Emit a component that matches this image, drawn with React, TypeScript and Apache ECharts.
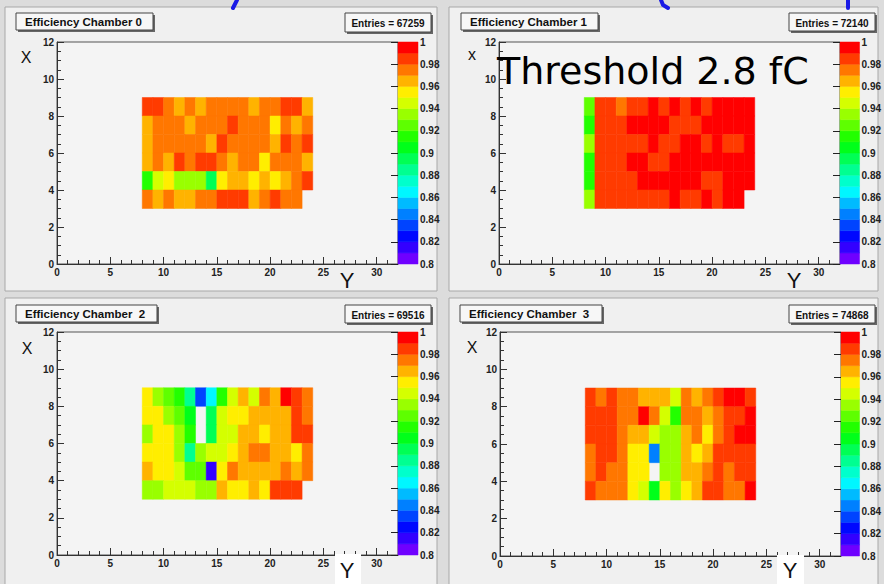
import React, { useEffect, useRef } from "react";
import * as echarts from "echarts";

// Bin centres' lower edges (cm): columns along "Y", rows along "X" (top row first)
const X_BINS = [8, 9, 10, 11, 12, 13, 14, 15, 16, 17, 18, 19, 20, 21, 22, 23];
const Y_BINS = [8, 7, 6, 5, 4, 3];

const CHAMBER_0 = [
  [0.985, 0.985, 0.975, 0.965, 0.975, 0.965, 0.975, 0.975, 0.975, 0.975, 0.965, 0.975, 0.975, 0.985, 0.985, 0.965],
  [0.965, 0.975, 0.975, 0.975, 0.965, 0.975, 0.975, 0.975, 0.985, 0.975, 0.975, 0.975, 0.955, 0.975, 0.965, 0.975],
  [0.965, 0.975, 0.975, 0.975, 0.975, 0.975, 0.965, 0.985, 0.975, 0.975, 0.975, 0.975, 0.965, 0.985, 0.975, 0.985],
  [0.965, 0.975, 0.965, 0.985, 0.975, 0.985, 0.985, 0.975, 0.965, 0.975, 0.975, 0.955, 0.975, 0.975, 0.975, 0.965],
  [0.915, 0.945, 0.955, 0.935, 0.935, 0.935, 0.895, 0.955, 0.965, 0.965, 0.955, 0.965, 0.955, 0.965, 0.975, 0.985],
  [0.975, 0.965, 0.975, 0.965, 0.965, 0.975, 0.975, 0.985, 0.985, 0.985, 0.965, 0.975, 0.985, 0.975, 0.975, null],
];

const CHAMBER_1 = [
  [0.925, 0.985, 0.985, 0.975, 0.985, 0.985, 0.995, 0.985, 0.995, 0.985, 0.995, 0.985, 0.995, 0.995, 0.995, 0.995],
  [0.915, 0.985, 0.985, 0.985, 0.995, 0.995, 0.995, 0.995, 0.985, 0.985, 0.985, 0.995, 0.995, 0.995, 0.995, 0.995],
  [0.935, 0.985, 0.985, 0.985, 0.985, 0.985, 0.995, 0.985, 0.985, 0.995, 0.995, 0.985, 0.995, 0.985, 0.985, 0.995],
  [0.915, 0.985, 0.985, 0.985, 0.995, 0.995, 0.985, 0.985, 0.995, 0.995, 0.995, 0.995, 0.995, 0.995, 0.995, 0.995],
  [0.915, 0.985, 0.985, 0.985, 0.985, 0.995, 0.995, 0.995, 0.995, 0.995, 0.995, 0.985, 0.985, 0.995, 0.995, 0.995],
  [0.935, 0.985, 0.985, 0.985, 0.985, 0.985, 0.985, 0.985, 0.995, 0.985, 0.985, 0.995, 0.985, 0.995, 0.995, null],
];

const CHAMBER_2 = [
  [0.955, 0.935, 0.925, 0.915, 0.885, 0.835, 0.865, 0.915, 0.945, 0.965, 0.945, 0.975, 0.965, 0.995, 0.985, 0.975],
  [0.955, 0.955, 0.935, 0.925, 0.905, null, 0.895, 0.945, 0.955, 0.955, 0.965, 0.965, 0.965, 0.965, 0.985, 0.975],
  [0.935, 0.955, 0.955, 0.935, 0.915, null, 0.895, 0.945, 0.945, 0.965, 0.965, 0.955, 0.965, 0.965, 0.985, 0.985],
  [0.955, 0.955, 0.955, 0.935, 0.885, 0.935, 0.945, 0.945, 0.955, 0.965, 0.975, 0.975, 0.965, 0.965, 0.955, 0.975],
  [0.965, 0.955, 0.955, 0.945, 0.925, 0.925, 0.815, 0.955, 0.975, 0.965, 0.965, 0.965, 0.965, 0.975, 0.965, 0.975],
  [0.935, 0.935, 0.945, 0.945, 0.945, 0.935, 0.935, 0.965, 0.955, 0.955, 0.965, 0.955, 0.985, 0.985, 0.985, null],
];

const CHAMBER_3 = [
  [0.985, 0.975, 0.985, 0.975, 0.975, 0.965, 0.965, 0.965, 0.945, 0.975, 0.965, 0.975, 0.985, 0.995, 0.995, 0.985],
  [0.985, 0.985, 0.985, 0.975, 0.975, 0.995, 0.975, 0.945, 0.915, 0.975, 0.975, 0.965, 0.975, 0.985, 0.985, 0.995],
  [0.985, 0.985, 0.985, 0.975, 0.965, 0.965, 0.945, 0.935, 0.935, 0.965, 0.975, 0.955, 0.975, 0.985, 0.995, 0.995],
  [0.975, 0.985, 0.985, 0.975, 0.955, 0.955, 0.845, 0.935, 0.935, 0.965, 0.955, 0.965, 0.985, 0.985, 0.985, 0.985],
  [0.975, 0.985, 0.975, 0.975, 0.955, 0.955, null, 0.935, 0.935, 0.965, 0.965, 0.975, 0.985, 0.975, 0.985, 0.985],
  [0.985, 0.975, 0.975, 0.975, 0.955, 0.945, 0.905, 0.955, 0.935, 0.955, 0.965, 0.985, 0.985, 0.975, 0.975, 0.995],
];

const CHAMBERS = [CHAMBER_0, CHAMBER_1, CHAMBER_2, CHAMBER_3];
const TITLES = ["Efficiency Chamber 0", "Efficiency Chamber 1", "Efficiency Chamber  2", "Efficiency Chamber  3"];
const ENTRIES = [67259, 72140, 69516, 74868];

// Colour-bar levels (lower edge of each contour band) and their colours
const LEVELS = [0.8, 0.81, 0.82, 0.83, 0.84, 0.85, 0.86, 0.87, 0.88, 0.89, 0.9, 0.91, 0.92, 0.93, 0.94, 0.95, 0.96, 0.97, 0.98, 0.99];
const PALETTE = [
  "#6f00ff", "#3300ff", "#0008ff", "#0044ff", "#0080ff", "#00bbff", "#00f7ff", "#00ffcc", "#00ff91", "#00ff55",
  "#00ff1a", "#22ff00", "#5eff00", "#99ff00", "#d4ff00", "#ffee00", "#ffb300", "#ff7700", "#ff3b00", "#ff0000",
];
const BAND = 0.01;

function colorFor(v: number): string {
  let idx = 0;
  for (let k = 0; k < LEVELS.length; k++) if (v >= LEVELS[k] - 1e-9) idx = k;
  return PALETTE[idx];
}

const LAYOUT = [
  { gx: 57, gy: 42, gw: 341, gh: 222, cbx: 398 },
  { gx: 499, gy: 42, gw: 341, gh: 222, cbx: 840 },
  { gx: 57, gy: 332, gw: 341, gh: 223, cbx: 398 },
  { gx: 500, gy: 332, gw: 341, gh: 224, cbx: 841 },
];

const FONT = "'Liberation Sans', Arial, sans-serif";

export default function App() {
  const ref = useRef<HTMLDivElement>(null);
  useEffect(() => {
    if (!ref.current) return;
    const chart = echarts.init(ref.current, null, { renderer: "svg" });

    const grids: any[] = [];
    const xAxes: any[] = [];
    const yAxes: any[] = [];
    const series: any[] = [];

    const labelStyle = { fontFamily: FONT, fontWeight: "bold", fontSize: 10, color: "#222" };

    LAYOUT.forEach((l, i) => {
      grids.push({ left: l.gx, top: l.gy, width: l.gw, height: l.gh, show: true, backgroundColor: "#f4f4f4", borderColor: "#555", borderWidth: 1 });
      xAxes.push({
        gridIndex: i, type: "value", min: 0, max: 32, interval: 5,
        axisLine: { show: true, onZero: false, lineStyle: { color: "#333" } },
        axisTick: { show: true, inside: true, length: 7, lineStyle: { color: "#333" } },
        minorTick: { show: true, splitNumber: 5, length: 4, lineStyle: { color: "#333" } },
        splitLine: { show: false },
        axisLabel: { ...labelStyle, margin: 3, showMaxLabel: false },
      });
      yAxes.push({
        gridIndex: i, type: "value", min: 0, max: 12, interval: 2,
        axisLine: { show: true, onZero: false, lineStyle: { color: "#333" } },
        axisTick: { show: true, inside: true, length: 7, lineStyle: { color: "#333" } },
        minorTick: { show: true, splitNumber: 4, length: 4, lineStyle: { color: "#333" } },
        splitLine: { show: false },
        axisLabel: { ...labelStyle, margin: 3 },
      });
      const data: any[] = [];
      CHAMBERS[i].forEach((row, r) => {
        row.forEach((v, c) => {
          if (v !== null) data.push([X_BINS[c], Y_BINS[r], v]);
        });
      });
      series.push({
        type: "custom", xAxisIndex: i, yAxisIndex: i, data, clip: true, z: 3,
        renderItem: (params: any, api: any) => {
          const x = api.value(0), y = api.value(1), v = api.value(2);
          const p0 = api.coord([x, y + 1]);
          const p1 = api.coord([x + 1, y]);
          const col = colorFor(v);
          return { type: "rect", shape: { x: p0[0], y: p0[1], width: p1[0] - p0[0], height: p1[1] - p0[1] }, style: { fill: col, stroke: col, lineWidth: 0.5 } };
        },
      });
    });

    LAYOUT.forEach((l, i) => {
      const gi = 4 + i;
      grids.push({ left: l.cbx, top: l.gy, width: 20, height: l.gh, show: false });
      xAxes.push({ gridIndex: gi, type: "value", min: 0, max: 1, show: false });
      yAxes.push({
        gridIndex: gi, type: "value", min: 0.8, max: 1, interval: 0.02, position: "right",
        axisLine: { show: false },
        axisTick: { show: true, inside: true, length: 7, lineStyle: { color: "#222" } },
        splitLine: { show: false },
        axisLabel: { ...labelStyle, margin: 2, formatter: (v: number) => String(Math.round(v * 100) / 100) },
        z: 5,
      });
      series.push({
        type: "custom", xAxisIndex: gi, yAxisIndex: gi, z: 2,
        data: LEVELS.map((lv, k) => [0, lv, k]),
        renderItem: (params: any, api: any) => {
          const lv = api.value(1), k = api.value(2);
          const p0 = api.coord([0, lv + BAND]);
          const p1 = api.coord([1, lv]);
          return { type: "rect", shape: { x: p0[0], y: p0[1], width: p1[0] - p0[0], height: p1[1] - p0[1] }, style: { fill: PALETTE[k], stroke: PALETTE[k], lineWidth: 0.5 } };
        },
      });
    });

    const graphic: any[] = [];
    const panels = [
      { x: 5, y: 7, w: 432, h: 284 },
      { x: 449, y: 7, w: 429, h: 284 },
      { x: 5, y: 298, w: 432, h: 290 },
      { x: 449, y: 298, w: 429, h: 290 },
    ];
    panels.forEach((p) => {
      graphic.push({ type: "rect", z: -10, shape: { x: p.x, y: p.y, width: p.w, height: p.h }, style: { fill: "#f0f0f0", stroke: "#a8a8a8", lineWidth: 1 } });
    });

    const titleBoxes = [
      { x: 16, y: 13, w: 137, h: 17 },
      { x: 461, y: 13, w: 137, h: 17 },
      { x: 16, y: 305, w: 141, h: 17 },
      { x: 460, y: 305, w: 142, h: 17 },
    ];
    const entryBoxes = [
      { x: 345, y: 13, w: 86, h: 19 },
      { x: 789, y: 13, w: 86, h: 18 },
      { x: 345, y: 305, w: 86, h: 18 },
      { x: 789, y: 305, w: 86, h: 18 },
    ];
    titleBoxes.forEach((b, i) => {
      graphic.push({ type: "rect", z: 20, shape: { x: b.x + 2, y: b.y + 2, width: b.w, height: b.h }, style: { fill: "#666" } });
      graphic.push({ type: "rect", z: 21, shape: { x: b.x, y: b.y, width: b.w, height: b.h }, style: { fill: "#f7f7f7", stroke: "#444", lineWidth: 1 } });
      graphic.push({ type: "text", z: 22, x: b.x + 9, y: b.y + b.h / 2, style: { text: TITLES[i], font: `bold 11.5px ${FONT}`, fill: "#111", verticalAlign: "middle" } });
    });
    entryBoxes.forEach((b, i) => {
      graphic.push({ type: "rect", z: 20, shape: { x: b.x + 2, y: b.y + 2, width: b.w, height: b.h }, style: { fill: "#666" } });
      graphic.push({ type: "rect", z: 21, shape: { x: b.x, y: b.y, width: b.w, height: b.h }, style: { fill: "#f7f7f7", stroke: "#444", lineWidth: 1 } });
      graphic.push({ type: "text", z: 22, x: b.x + b.w / 2, y: b.y + b.h / 2 + 1, style: { text: `Entries = ${ENTRIES[i]}`, font: `bold 10px ${FONT}`, fill: "#111", align: "center", verticalAlign: "middle" } });
    });

    // Axis name annotations
    const xLabels = [
      { x: 26, y: 57, t: "X" },
      { x: 472, y: 54, t: "x" },
      { x: 27, y: 348, t: "X" },
      { x: 472, y: 347, t: "X" },
    ];
    xLabels.forEach((l) => {
      graphic.push({ type: "text", z: 30, x: l.x, y: l.y, style: { text: l.t, font: `16px ${FONT}`, fill: "#111", align: "center", verticalAlign: "middle" } });
    });
    const yBoxes = [
      { x: 335, y: 554, w: 26, h: 30 },
      { x: 777, y: 555, w: 27, h: 29 },
    ];
    yBoxes.forEach((b) => {
      graphic.push({ type: "rect", z: 29, shape: { x: b.x, y: b.y, width: b.w, height: b.h }, style: { fill: "#ffffff" } });
    });
    const yLabels = [
      { x: 347, y: 280 },
      { x: 794, y: 280 },
      { x: 347, y: 570 },
      { x: 790, y: 570 },
    ];
    yLabels.forEach((l) => {
      graphic.push({ type: "text", z: 30, x: l.x, y: l.y, style: { text: "Y", font: `22px ${FONT}`, fill: "#111", align: "center", verticalAlign: "middle" } });
    });

    graphic.push({ type: "text", z: 30, x: 497, y: 71, style: { text: "Threshold 2.8 fC", font: `38px 'DejaVu Sans', sans-serif`, fill: "#000", verticalAlign: "middle" } });

    // fragments of the cut-off slide title above the panels
    graphic.push({ type: "polyline", z: 30, shape: { points: [[237, 0], [233, 8]] }, style: { stroke: "#1a1ae6", lineWidth: 4, lineCap: "round" } });
    graphic.push({ type: "polyline", z: 30, shape: { points: [[661, 0], [663, 5], [668, 8]] }, style: { stroke: "#1a1ae6", lineWidth: 4, lineCap: "round", fill: "none" } });
    graphic.push({ type: "polyline", z: 30, shape: { points: [[848, 0], [848, 8]] }, style: { stroke: "#1a1ae6", lineWidth: 4, lineCap: "round" } });

    chart.setOption({
      animation: false,
      backgroundColor: "#dcdcdc",
      grid: grids,
      xAxis: xAxes,
      yAxis: yAxes,
      series,
      graphic,
    });
    return () => chart.dispose();
  }, []);

  return <div ref={ref} style={{ position: "fixed", left: 0, top: 0, width: 884, height: 584 }} />;
}
